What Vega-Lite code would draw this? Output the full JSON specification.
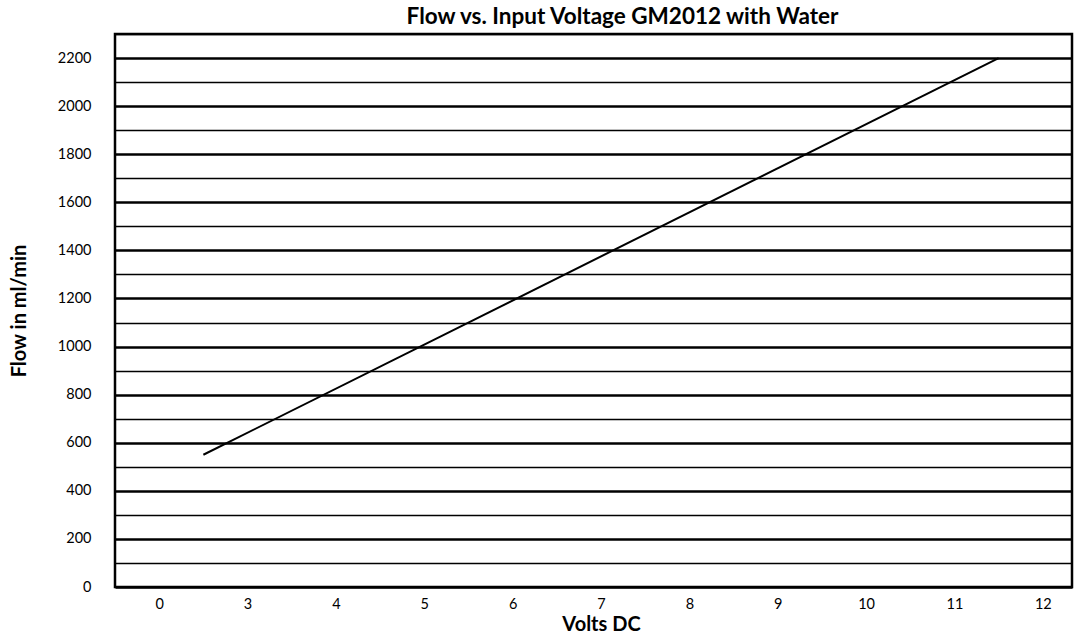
{
  "$schema": "https://vega.github.io/schema/vega-lite/v6.json",
  "width": 957,
  "height": 553,
  "autosize": "none",
  "padding": {"left": 115, "top": 34, "right": 4, "bottom": 55},
  "background": "white",
  "config": {
    "font": "Lato",
    "view": {"stroke": "black", "strokeWidth": 2.5}
  },
  "title": {
    "text": "Flow vs. Input Voltage GM2012 with Water",
    "font": "Lato",
    "fontSize": 22.5,
    "fontWeight": "bold",
    "color": "black",
    "anchor": "middle",
    "offset": 6,
    "dx": 29
  },
  "data": {
    "values": [
      {"volts": 2.5, "flow": 550},
      {"volts": 11.5, "flow": 2200}
    ]
  },
  "mark": {"type": "line", "color": "black", "strokeWidth": 2},
  "encoding": {
    "x": {
      "field": "volts",
      "type": "quantitative",
      "scale": {"domain": [1.5, 12.33], "nice": false, "zero": false},
      "axis": {
        "values": [2, 3, 4, 5, 6, 7, 8, 9, 10, 11, 12],
        "labelExpr": "datum.value == 2 ? '0' : datum.label",
        "grid": false,
        "ticks": false,
        "domain": false,
        "labelFlush": false,
        "labelPadding": 10,
        "labelFont": "Lato",
        "labelFontSize": 14.5,
        "labelColor": "black",
        "title": "Volts DC",
        "titleFont": "Lato",
        "titleFontSize": 20,
        "titleFontWeight": "bold",
        "titleColor": "black",
        "titlePadding": 4,
        "titleX": 486
      }
    },
    "y": {
      "field": "flow",
      "type": "quantitative",
      "scale": {"domain": [0, 2300], "nice": false, "zero": true},
      "axis": {
        "values": [0, 100, 200, 300, 400, 500, 600, 700, 800, 900, 1000, 1100, 1200, 1300, 1400, 1500, 1600, 1700, 1800, 1900, 2000, 2100, 2200, 2300],
        "format": "d",
        "labelExpr": "datum.value % 200 == 0 ? datum.label : ''",
        "grid": true,
        "gridColor": "black",
        "gridOpacity": 1,
        "gridWidth": {"condition": {"test": "datum.value % 200 == 0", "value": 2.5}, "value": 1.3},
        "ticks": false,
        "domain": false,
        "labelFlush": false,
        "labelPadding": 24,
        "labelFont": "Lato",
        "labelFontSize": 14.5,
        "labelColor": "black",
        "title": "Flow in ml/min",
        "titleFont": "Lato",
        "titleFontSize": 20,
        "titleFontWeight": "bold",
        "titleColor": "black",
        "titlePadding": 28
      }
    }
  }
}
